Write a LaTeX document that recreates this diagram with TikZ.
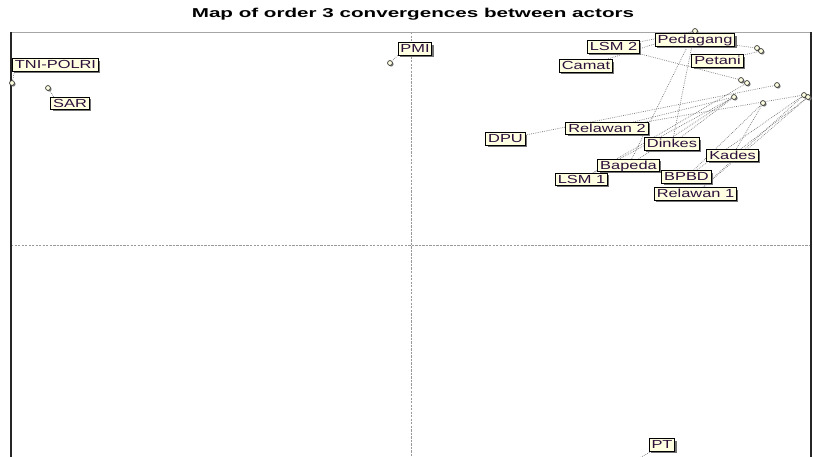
\documentclass[tikz,border=0pt]{standalone}
\usepackage{fontspec}
\newfontfamily\lblfont[FakeStretch=1.4]{Liberation Sans}
\newfontfamily\ttlfont[FakeStretch=1.6]{Liberation Sans}
\usepackage{tikz}
\usetikzlibrary{shadows}
\usetikzlibrary{backgrounds}
\definecolor{tipbg}{RGB}{255,255,225}
\definecolor{tipink}{RGB}{45,15,60}
\tikzset{
  actor/.style={draw=black, line width=0.8pt, fill=tipbg, text=tipink,
    font=\lblfont\fontsize{10}{10}\selectfont, inner xsep=2pt, inner ysep=0.9pt,
    text height=7.4pt, text depth=1.2pt,
    drop shadow={shadow xshift=1.5pt, shadow yshift=-1.5pt, fill=black!55, opacity=1}},
  actpt/.style={circle, draw=black!80, fill=tipbg, line width=0.6pt, inner sep=0pt,
    minimum size=4.2pt,
    drop shadow={shadow xshift=1pt, shadow yshift=-1pt, fill=black!50, opacity=1}},
  lead/.style={black!55, densely dotted, line width=0.6pt},
  midline/.style={gray!80, dash pattern=on 2pt off 1pt, line width=0.4pt}
}
\begin{document}
\begin{tikzpicture}[x=0.03cm, y=-0.03cm]
  \useasboundingbox (0,0) rectangle (813,457);
  \node[font=\ttlfont\bfseries\fontsize{11}{11}\selectfont] (title) at (413,14) {Map of order 3 convergences between actors};

  \node[actpt] (ptni) at (12,83) {};
  \node[actpt] (psar) at (48,88) {};
  \node[actpt] (ppmi) at (390,63) {};
  \coordinate (ppt) at (634,461);
  \node[actpt] (pa) at (695,31) {};
  \node[actpt] (pb1) at (757,48) {};
  \node[actpt] (pb2) at (761,51) {};
  \node[actpt] (pc1) at (741,80) {};
  \node[actpt] (pc2) at (747,83) {};
  \node[actpt] (pd) at (777,85) {};
  \node[actpt] (pe) at (734,97) {};
  \node[actpt] (pg) at (763,103) {};
  \node[actpt] (pf1) at (804,95) {};
  \node[actpt] (pf2) at (808,97) {};

  \node[actor] (tni) at (55.5,65) {TNI-POLRI};
  \node[actor] (sar) at (70,103.5) {SAR};
  \node[actor] (pmi) at (415,49) {PMI};
  \node[actor] (pt) at (662,445) {PT};
  \node[actor] (lsmtwo) at (613.5,47) {LSM 2};
  \node[actor] (camat) at (586,66) {Camat};
  \node[actor] (pedagang) at (695,40) {Pedagang};
  \node[actor] (petani) at (717.5,61) {Petani};
  \node[actor] (dpu) at (505.5,139) {DPU};
  \node[actor] (relawantwo) at (607,128.5) {Relawan 2};
  \node[actor] (dinkes) at (672,144) {Dinkes};
  \node[actor] (kades) at (732.5,155.5) {Kades};
  \node[actor] (bapeda) at (628.5,165.5) {Bapeda};
  \node[actor] (lsmone) at (581.5,179.5) {LSM 1};
  \node[actor] (bpbd) at (686.5,177) {BPBD};
  \node[actor] (relawanone) at (695.5,194) {Relawan 1};

  \begin{pgfonlayer}{background}
    \draw[midline] (411,32) -- (411,457);
    \draw[midline] (11,245) -- (811,245);
    \draw[gray!70, line width=0.8pt] (11,32) -- (811,32);
    \draw[black!85, line width=1.2pt] (11,32) -- (11,457);
    \draw[black!85, line width=1.2pt] (811,32) -- (811,457);

    \draw[lead] ([xshift=2pt]tni.south west) -- (ptni);
    \draw[lead] ([xshift=3pt]sar.north west) -- (psar);
    \draw[lead] (pmi.south west) -- (ppmi);
    \draw[lead] ([xshift=2pt]pt.south west) -- (ppt);
    \draw[lead] (camat) -- (pa);
    \draw[lead] (lsmtwo) -- (pa);
    \draw[lead] (lsmtwo) -- (pc1);
    \draw[lead] (pedagang) -- (pb1);
    \draw[lead] (petani) -- (pb2);
    \draw[lead] (bapeda) -- (pa);
    \draw[lead] (dinkes) -- (pa);
    \draw[lead] (dinkes) -- (pe);
    \draw[lead] (bapeda) -- (pe);
    \draw[lead] (lsmone) -- (pc2);
    \draw[lead] (lsmone) -- (pe);
    \draw[lead] (dpu) -- (pd);
    \draw[lead] (relawantwo) -- (pe);
    \draw[lead] (relawantwo) -- (pf1);
    \draw[lead] (kades) -- (pg);
    \draw[lead] (bpbd) -- (pg);
    \draw[lead] (kades) -- (pf2);
    \draw[lead] (bpbd) -- (pf1);
    \draw[lead] (relawanone) -- (pf2);
    \draw[lead] (relawanone) -- (pf1);
  \end{pgfonlayer}
\end{tikzpicture}
\end{document}
